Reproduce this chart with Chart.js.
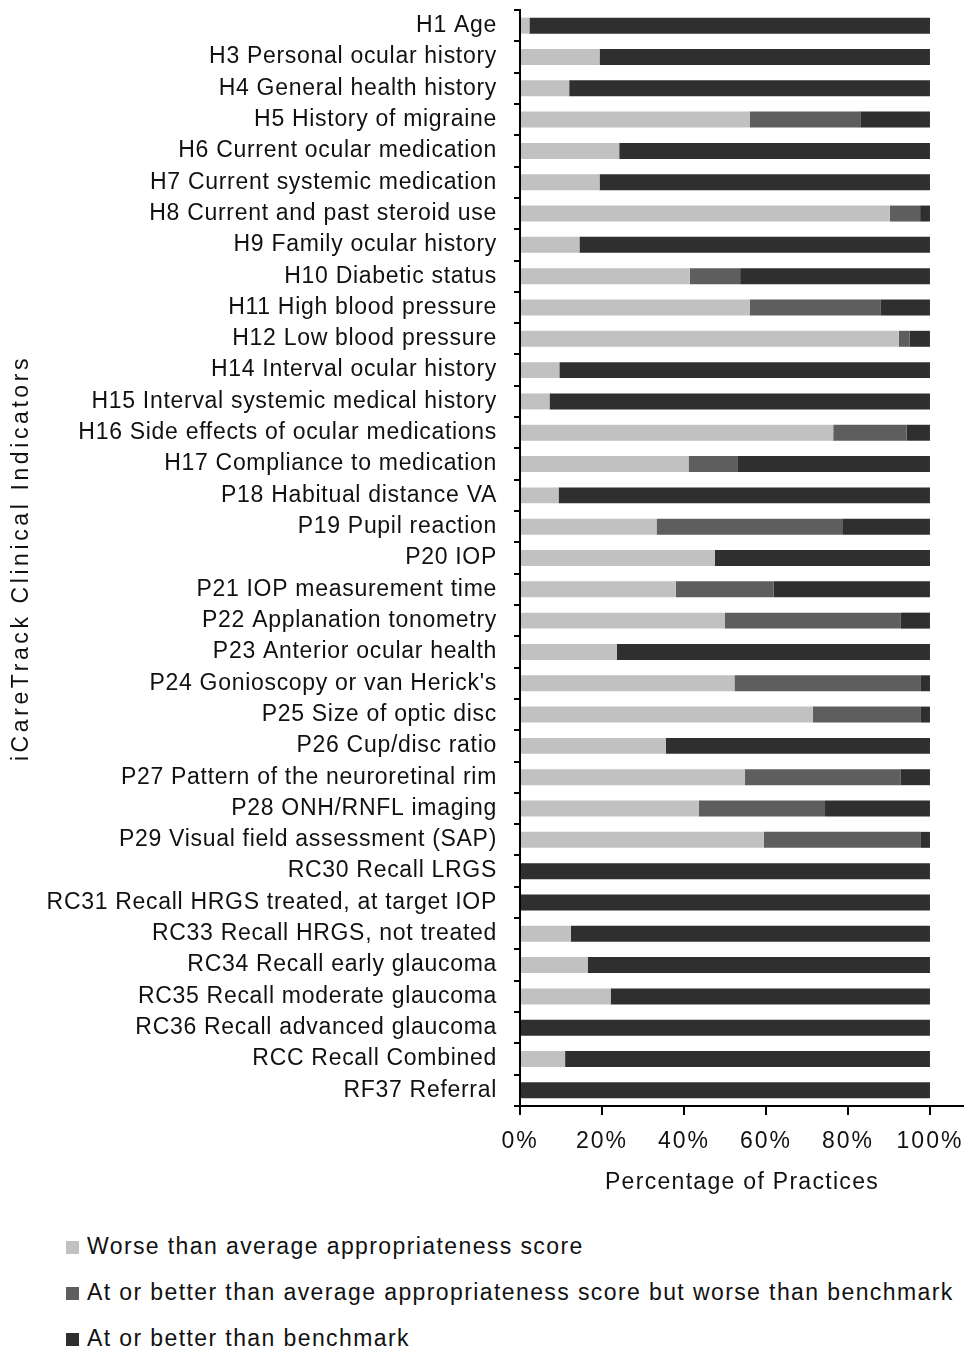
<!DOCTYPE html>
<html>
<head>
<meta charset="utf-8">
<script src="https://cdn.jsdelivr.net/npm/chart.js@4.4.1/dist/chart.umd.min.js"></script>
<style>
  html, body { margin: 0; padding: 0; background: #fff; }
  #wrap { position: relative; width: 964px; height: 1200px; }
  #legend { position: absolute; left: 66px; top: 1229px; font-family: "Liberation Sans", Arial, sans-serif;
            font-size: 23px; letter-spacing: 1.4px; color: #111; }
  #legend div { height: 46px; line-height: 34px; white-space: nowrap; }
  #legend span.sw { display: inline-block; width: 13px; height: 13px; margin-right: 8px; vertical-align: 0px; }
</style>
</head>
<body>
<div id="wrap"><canvas id="c"></canvas></div>
<div id="legend"></div>
<script>
/* ---- data (percent of practices) ---- */
const indicators = [
  "H1 Age", "H3 Personal ocular history", "H4 General health history",
  "H5 History of migraine", "H6 Current ocular medication", "H7 Current systemic medication",
  "H8 Current and past steroid use", "H9 Family ocular history", "H10 Diabetic status",
  "H11 High blood pressure", "H12 Low blood pressure", "H14 Interval ocular history",
  "H15 Interval systemic medical history", "H16 Side effects of ocular medications",
  "H17 Compliance to medication", "P18 Habitual distance VA", "P19 Pupil reaction",
  "P20 IOP", "P21 IOP measurement time", "P22 Applanation tonometry",
  "P23 Anterior ocular health", "P24 Gonioscopy or van Herick's", "P25 Size of optic disc",
  "P26 Cup/disc ratio", "P27 Pattern of the neuroretinal rim", "P28 ONH/RNFL imaging",
  "P29 Visual field assessment (SAP)", "RC30 Recall LRGS",
  "RC31 Recall HRGS treated, at target IOP", "RC33 Recall HRGS, not treated",
  "RC34 Recall early glaucoma", "RC35 Recall moderate glaucoma",
  "RC36 Recall advanced glaucoma", "RCC Recall Combined", "RF37 Referral"
];

const worseThanAverage = [
  2.3, 19.4, 12.0, 56.0, 24.2, 19.4, 90.2, 14.5, 41.4,
  56.0, 92.4, 9.6, 7.2, 76.4, 41.1, 9.4, 33.3,
  47.5, 38.0, 50.0, 23.6, 52.3, 71.4,
  35.6, 54.8, 43.6, 59.5, 0,
  0, 12.4, 16.5, 22.1, 0, 11.0, 0
];

const betweenAverageAndBenchmark = [
  0, 0, 0, 27.0, 0, 0, 7.4, 0, 12.3,
  31.9, 2.6, 0, 0, 17.9, 11.9, 0, 45.3,
  0, 23.9, 42.9, 0, 45.5, 26.4,
  0, 38.1, 30.8, 38.3, 0,
  0, 0, 0, 0, 0, 0, 0
];

const atOrBetterBenchmark = [
  97.7, 80.6, 88.0, 17.0, 75.8, 80.6, 2.4, 85.5, 46.3,
  12.1, 5.0, 90.4, 92.8, 5.7, 47.0, 90.6, 21.4,
  52.5, 38.1, 7.1, 76.4, 2.2, 2.2,
  64.4, 7.1, 25.6, 2.2, 100,
  100, 87.6, 83.5, 77.9, 100, 89.0, 100
];

const seriesNames = [
  "Worse than average appropriateness score",
  "At or better than average appropriateness score but worse than benchmark",
  "At or better than benchmark"
];
const seriesColors = ["#c1c1c1", "#5e5e5e", "#2f2f2f"];
const xTicks = [0, 20, 40, 60, 80, 100];

const FONT = "'Liberation Sans', Arial, sans-serif";
Chart.defaults.font.family = FONT;
Chart.defaults.color = "#111";

/* the original uses a tracked (letter-spaced) Helvetica; wrap the scale's
   label/title drawing so the canvas letterSpacing is set just for them */
function withSpacing(fn, spacing) {
  return function () {
    const ctx = this.ctx;
    const prev = ctx.letterSpacing;
    ctx.letterSpacing = spacing;
    fn.apply(this, arguments);
    ctx.letterSpacing = prev;
  };
}
function trackScale(axis, labelSpacing, titleSpacing) {
  if (axis._tracked) return;
  const proto = Object.getPrototypeOf(axis);
  axis.drawLabels = withSpacing(proto.drawLabels, labelSpacing);
  axis.drawTitle = withSpacing(proto.drawTitle, titleSpacing);
  axis._tracked = true;
}

const seriesData = [worseThanAverage, betweenAverageAndBenchmark, atOrBetterBenchmark];

new Chart(document.getElementById("c"), {
  type: "bar",
  data: {
    labels: indicators,
    datasets: seriesData.map((d, i) => ({
      label: seriesNames[i],
      data: d,
      backgroundColor: seriesColors[i],
      borderWidth: 0,
      categoryPercentage: 1,
      barPercentage: 0.51
    }))
  },
  options: {
    indexAxis: "y",
    responsive: true,
    maintainAspectRatio: false,
    animation: false,
    layout: { padding: { top: 10, right: 0, left: 0, bottom: 0 } },
    plugins: { legend: { display: false }, tooltip: { enabled: false } },
    scales: {
      x: {
        stacked: true,
        min: 0,
        max: 108.3,
        afterBuildTicks: (axis) => { axis.ticks = xTicks.map(v => ({ value: v })); },
        afterFit: (axis) => {
          axis.height = 94;
          axis.paddingLeft = 0;
          axis.paddingRight = 0;
          trackScale(axis, "2px", "1.3px");
        },
        ticks: { callback: (v) => v + "%", font: { size: 23 }, color: "#111", padding: 13, maxRotation: 0 },
        grid: { drawOnChartArea: false, drawTicks: true, tickLength: 9, color: "#000", lineWidth: 2 },
        border: { color: "#000", width: 2 },
        title: { display: true, text: "Percentage of Practices", font: { size: 23 }, color: "#111",
                 padding: { top: 0, bottom: 4 } }
      },
      y: {
        stacked: true,
        afterFit: (axis) => {
          axis.width = 520;
          axis.paddingTop = 0;
          axis.paddingBottom = 0;
          trackScale(axis, "0.7px", "3.6px");
        },
        ticks: { font: { size: 23 }, color: "#111", padding: 17, autoSkip: false },
        grid: { drawOnChartArea: false, drawTicks: true, tickLength: 6, color: "#000", lineWidth: 2 },
        border: { color: "#000", width: 2 },
        title: { display: true, text: "iCareTrack Clinical Indicators", font: { size: 23 }, color: "#111",
                 padding: { top: 8, bottom: 0 } }
      }
    }
  }
});

const legend = document.getElementById("legend");
seriesNames.forEach((name, i) => {
  const row = document.createElement("div");
  row.innerHTML = '<span class="sw" style="background:' + seriesColors[i] + '"></span>' + name;
  legend.appendChild(row);
});
</script>
</body>
</html>
